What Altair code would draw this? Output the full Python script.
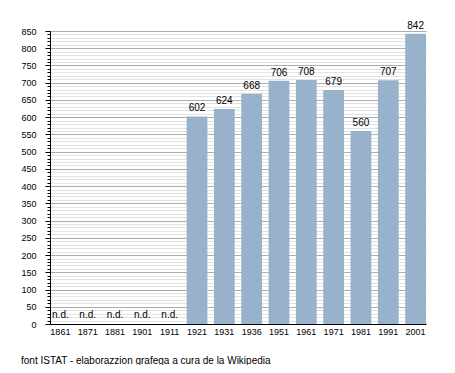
import altair as alt
import pandas as pd

years = ["1861", "1871", "1881", "1901", "1911", "1921", "1931", "1936",
         "1951", "1961", "1971", "1981", "1991", "2001"]
values = [None, None, None, None, None, 602, 624, 668, 706, 708, 679, 560, 707, 842]
missing_label = "n.d."
footer = "font ISTAT - elaborazzion grafega a cura de la Wikipedia"
major_ticks = list(range(0, 851, 50))
minor_ticks = list(range(0, 851, 10))

df = pd.DataFrame({"year": years, "value": values})

FONT = "Liberation Sans"
W, H = 376, 293

xenc = alt.X("year:N", sort=years, title=None,
             scale=alt.Scale(paddingInner=0.24, paddingOuter=0),
             axis=alt.Axis(labelAngle=0, ticks=False, domainColor="black",
                           labelFont=FONT, labelFontSize=9, labelColor="black",
                           labelPadding=3, grid=False))

yscale = alt.Scale(domain=[0, 850], nice=False, zero=True)

base = alt.Chart(df)

bars = base.mark_bar(color="#98b2cc").encode(
    x=xenc,
    y=alt.Y("value:Q", scale=yscale, title=None,
            axis=alt.Axis(orient="left", values=minor_ticks, labels=False,
                          domain=False, tickSize=3, tickColor="black",
                          grid=True, gridColor="#e2e2e2", gridWidth=1)),
)

labels = base.mark_text(font=FONT, fontSize=10, color="black",
                        baseline="alphabetic", dy=-5).encode(
    x=alt.X("year:N", sort=years),
    y=alt.Y("value:Q", scale=yscale, title=None,
            axis=alt.Axis(orient="left", values=major_ticks, domain=True,
                          domainColor="black", tickSize=5, tickColor="black",
                          labelFont=FONT, labelFontSize=9, labelColor="black",
                          labelPadding=9, grid=True, gridColor="#adadad",
                          gridWidth=1)),
    text=alt.Text("value:Q"),
).transform_filter("datum.value != null")

nd = base.mark_text(font=FONT, fontSize=10, color="black",
                    baseline="alphabetic", dy=-6).encode(
    x=alt.X("year:N", sort=years),
    y=alt.Y("zero:Q", scale=yscale, axis=None),
    text=alt.Text("nd:N"),
).transform_filter("datum.value == null").transform_calculate(
    zero="0", nd=f"'{missing_label}'")

chart = alt.layer(bars, labels, nd).resolve_axis(y="independent").resolve_scale(
    y="shared").properties(
    width=W, height=H,
    autosize=alt.AutoSizeParams(type="none"),
    padding={"left": 42, "top": 23, "right": 21, "bottom": 41},
    background="white",
    title=alt.TitleParams(footer, orient="bottom", anchor="start", font=FONT,
                          fontSize=10, fontWeight="normal", color="black",
                          offset=20),
).configure_view(stroke=None)

chart.save("out.html", embed_options={"renderer": "svg", "actions": False})
